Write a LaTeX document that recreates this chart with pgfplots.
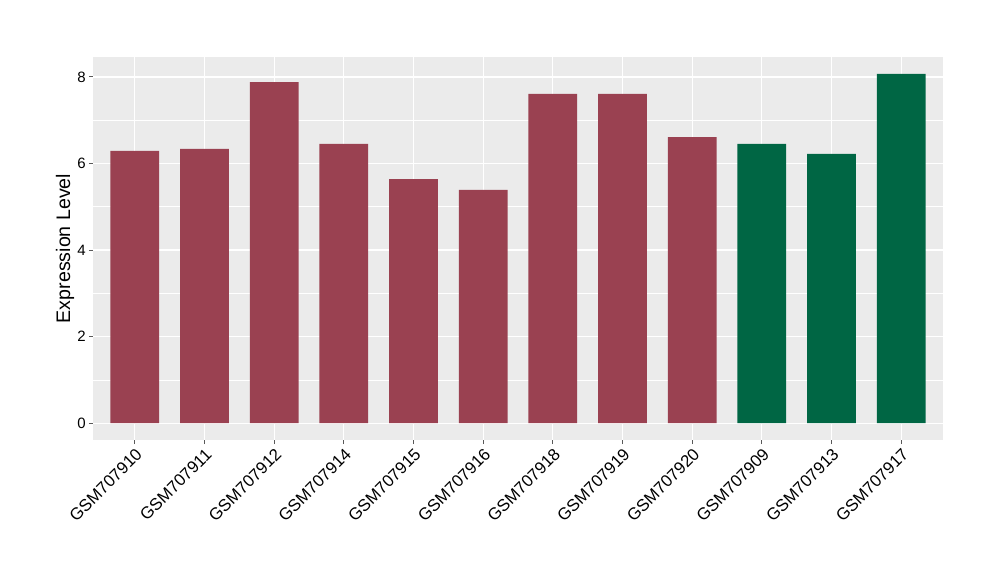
\documentclass[border=0pt]{standalone}
\usepackage{pgfplots}
\pgfplotsset{compat=1.18}
\usepackage{fontspec}
\setmainfont{Liberation Sans}
\definecolor{bgc}{HTML}{EBEBEB}
\definecolor{redbar}{HTML}{9A4151}
\definecolor{greenbar}{HTML}{006644}
\begin{document}
\begin{tikzpicture}
\useasboundingbox (-46.5pt,-70pt) rectangle (453.5pt,220pt);
\begin{axis}[
  at={(0,0)}, anchor=south west,
  scale only axis, width=425pt, height=191.5pt,
  xmin=-0.6, xmax=11.6, ymin=-0.39, ymax=8.46,
  axis background/.style={fill=bgc},
  axis line style={draw=none},
  xtick={0,...,11},
  xticklabels={GSM707910,GSM707911,GSM707912,GSM707914,GSM707915,GSM707916,GSM707918,GSM707919,GSM707920,GSM707909,GSM707913,GSM707917},
  ytick={0,2,4,6,8},
  minor ytick={1,3,5,7},
  grid=both,
  major grid style={white, line width=0.6pt},
  minor grid style={white, line width=0.3pt},
  tick align=outside,
  tick pos=left,
  major tick length=2pt,
  tick style={gray!70!black, line width=0.5pt},
  minor tick length=0pt,
  /pgf/number format/assume math mode=true,
  ticklabel style={font=\fontsize{7.5pt}{9pt}\selectfont, text=black},
  xticklabel style={rotate=45, anchor=north east, font=\fontsize{8.4pt}{9pt}\selectfont, inner sep=1pt},
  yticklabel style={inner sep=1.5pt},
  ylabel={Expression Level},
  ylabel style={at={(axis description cs:-0.033,0.5)}, anchor=center, font=\fontsize{9.8pt}{12pt}\selectfont},
  ybar, bar width=0.7, bar shift=0pt,
  every axis plot/.append style={draw=none},
]
\addplot[fill=redbar] coordinates {(0,6.29) (1,6.34) (2,7.88) (3,6.45) (4,5.64) (5,5.39) (6,7.61) (7,7.61) (8,6.61)};
\addplot[fill=greenbar] coordinates {(9,6.45) (10,6.22) (11,8.07)};
\end{axis}
\end{tikzpicture}
\end{document}
